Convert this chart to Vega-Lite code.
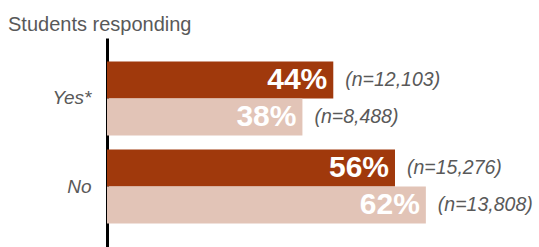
{
 "$schema": "https://vega.github.io/schema/vega-lite/v6.json",
 "width": 432, "height": 209,
 "autosize": {"type": "none"},
 "padding": {"left": 107, "top": 38, "right": 0, "bottom": 0},
 "background": "white",
 "title": {"text": "Students  responding", "anchor": "start", "frame": "group", "dx": -99, "offset": 3, "font": "Liberation Sans", "fontSize": 20, "fontWeight": "normal", "color": "#595959"},
 "data": {"values": [
  {"answer": "Yes*", "group": "A", "pct": 0.44, "n": "(n=12,103)"},
  {"answer": "Yes*", "group": "B", "pct": 0.38, "n": "(n=8,488)"},
  {"answer": "No", "group": "A", "pct": 0.56, "n": "(n=15,276)"},
  {"answer": "No", "group": "B", "pct": 0.62, "n": "(n=13,808)"}
 ]},
 "encoding": {
  "y": {"field": "answer", "type": "nominal", "sort": ["Yes*", "No"], "scale": {"paddingInner": 0.16, "paddingOuter": 0.267}, "axis": {"title": null, "ticks": false, "domainColor": "black", "domainWidth": 3, "labelFont": "Liberation Sans", "labelFontSize": 19, "labelFontStyle": "italic", "labelColor": "#595959", "labelPadding": 16}},
  "yOffset": {"field": "group", "type": "nominal", "sort": ["A", "B"], "scale": {"paddingInner": 0, "paddingOuter": 0}},
  "x": {"field": "pct", "type": "quantitative", "scale": {"domain": [0, 0.84]}, "axis": null}
 },
 "layer": [
  {"mark": {"type": "bar"}, "encoding": {"color": {"field": "group", "type": "nominal", "scale": {"domain": ["A", "B"], "range": ["#A0390C", "#E2C4B7"]}, "legend": null}}},
  {"mark": {"type": "text", "align": "right", "baseline": "middle", "dx": -6, "font": "Liberation Sans", "fontSize": 30, "fontWeight": "bold", "color": "white"}, "encoding": {"text": {"field": "pct", "format": ".0%"}}},
  {"mark": {"type": "text", "align": "left", "baseline": "middle", "dx": 12, "font": "Liberation Sans", "fontSize": 19.5, "fontStyle": "italic", "color": "#595959"}, "encoding": {"text": {"field": "n"}}}
 ],
 "config": {"view": {"stroke": null}, "axis": {"grid": false}}
}
